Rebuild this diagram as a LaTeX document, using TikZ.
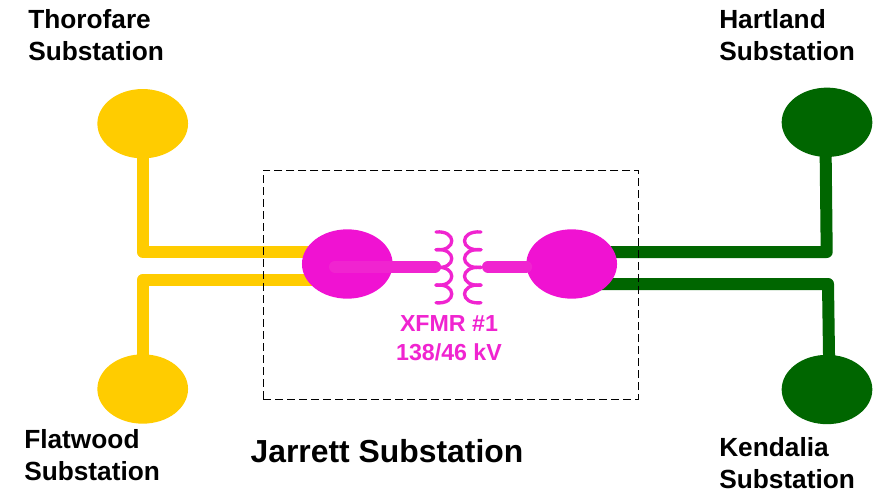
\documentclass[tikz,border=0pt]{standalone}
\usepackage{fontspec}
\setmainfont{Liberation Sans}
\usepackage{tikz}
\usetikzlibrary{shapes.geometric,positioning,calc,backgrounds}
\definecolor{feedyellow}{RGB}{255,204,0}
\definecolor{feedgreen}{RGB}{0,102,0}
\definecolor{busmagenta}{RGB}{240,18,210}
\definecolor{xfmrmagenta}{RGB}{240,36,208}
\tikzset{
  basenode/.style={ellipse,inner sep=0pt,minimum width=68pt,minimum height=52pt},
  yellownode/.style={basenode,fill=feedyellow},
  greennode/.style={basenode,fill=feedgreen},
  busnode/.style={basenode,fill=busmagenta},
  sublabel/.style={align=left,anchor=west,inner sep=0pt,font=\fontsize{19.7}{24}\selectfont\bfseries},
  xfmrlabel/.style={align=center,inner sep=0pt,text=xfmrmagenta,font=\fontsize{17.4}{21.7}\selectfont\bfseries},
  yellowline/.style={line width=9pt,color=feedyellow,line join=round},
  greenline/.style={line width=9pt,color=feedgreen,line join=round},
  stubline/.style={line width=9pt,color=xfmrmagenta,line cap=round},
  coilline/.style={line width=2.5pt,color=xfmrmagenta,line cap=round},
  boxline/.style={line width=0.75pt,dash pattern=on 6pt off 3pt,color=black}
}
\begin{document}
\begin{tikzpicture}[x=0.75pt,y=-0.75pt]
  \useasboundingbox (0,0) rectangle (874,492);

  \node[yellownode] (thorofare) at (142.7,123.7) {};
  \node[yellownode] (flatwood) at (142.7,389) {};
  \node[greennode] (hartland) at (827,122.3) {};
  \node[greennode] (kendalia) at (827,389.5) {};
  \node[busnode] (busleft) at (347.3,264) {};
  \node[busnode] (busright) at (571.7,264) {};

  \coordinate (stubleft) at (335,266.7);
  \coordinate (coilleft) at (435,266.7);
  \coordinate (stubright) at (488,266.7);

  % feeders sit under the buses
  \begin{scope}[on background layer]
    \draw[yellowline] (thorofare.center) -- (142.7,251.8) -- (busleft.center |- 0,251.8);
    \draw[yellowline] (flatwood.center) -- (142.7,280) -- (busleft.center |- 0,280);
    \draw[greenline] (hartland.center) ++(-1.7,0) -- (826.7,252) -- (busright.center |- 0,252);
    \draw[greenline] (kendalia.center) ++(2.5,0) -- (828,284) -- (busright.center |- 0,284);
    \node[draw,boxline,inner sep=0pt,minimum width=281.25pt,minimum height=171.75pt] (jarrettbox) at (450.8,284.5) {};
  \end{scope}

  \draw[stubline] (stubleft) -- (coilleft);
  \draw[stubline] (stubright) -- (busright.west |- stubright);

  % transformer windings
  \foreach \i in {0,1,2,3} {
    \draw[coilline] ($(436,232)+(0,\i*17.7)$) .. controls +(21,-2) and +(21,2) .. +(0,17.7);
    \draw[coilline] ($(481,232)+(0,\i*17.7)$) .. controls +(-22,-2) and +(-22,2) .. +(0,17.7);
  }

  \node[sublabel] (thorofaretxt) at (28,35) {Thorofare\\Substation};
  \node[sublabel] (flatwoodtxt) at (24,455) {Flatwood\\Substation};
  \node[sublabel] (hartlandtxt) at (719,35) {Hartland\\Substation};
  \node[sublabel] (kendaliatxt) at (719,463) {Kendalia\\Substation};
  \node[xfmrlabel] (xfmrtxt) at (449,338.5) {XFMR \#1\\138/46 kV};
  \node[inner sep=0pt,font=\fontsize{23.9}{29}\selectfont\bfseries] (jarretttxt) at (387,451) {Jarrett Substation};
\end{tikzpicture}
\end{document}
